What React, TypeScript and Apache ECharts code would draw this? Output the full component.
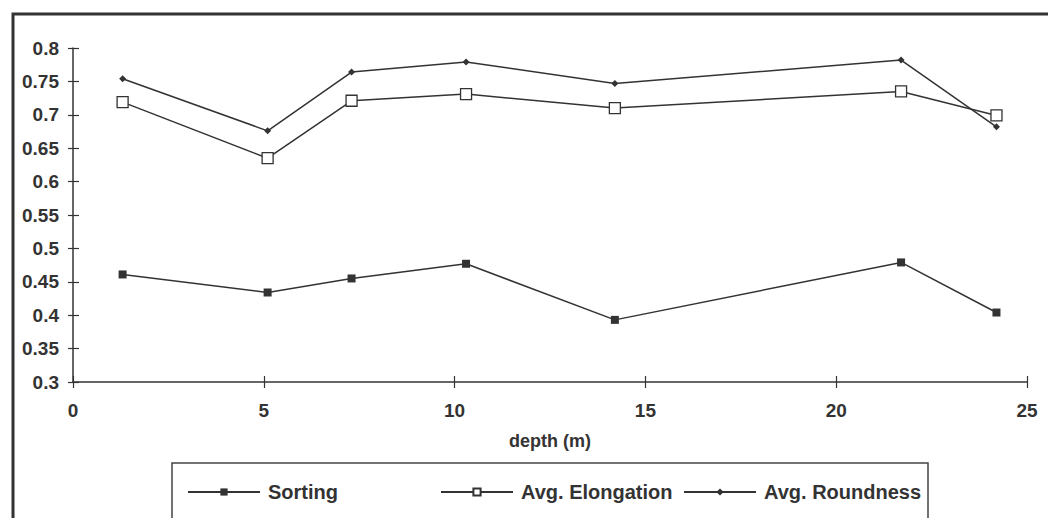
import React, { useEffect, useRef } from "react";
import * as echarts from "echarts";

const depth = [1.3, 5.1, 7.3, 10.3, 14.2, 21.7, 24.2];
const sorting = [0.461, 0.434, 0.455, 0.477, 0.393, 0.479, 0.404];
const elongation = [0.719, 0.635, 0.721, 0.731, 0.71, 0.735, 0.699];
const roundness = [0.754, 0.676, 0.764, 0.779, 0.747, 0.782, 0.682];
const seriesNames = ["Sorting", "Avg. Elongation", "Avg. Roundness"];
const xTitle = "depth (m)";

const INK = "#333333";
const FONT = "'Liberation Sans', Arial, sans-serif";

export default function App() {
  const ref = useRef<HTMLDivElement>(null);
  useEffect(() => {
    if (!ref.current) return;
    const chart = echarts.init(ref.current, undefined, { renderer: "svg" });
    const pairs = (ys: number[]) => depth.map((d, i) => [d, ys[i]]);
    const legendText = { fontFamily: FONT, fontWeight: "bold" as const, fontSize: 20, color: INK, padding: [0, 0, 0, 3] };
    const mkLegend = (name: string, left: number) => ({
      data: [name],
      left,
      top: 477,
      itemWidth: 72,
      itemHeight: 9,
      textStyle: legendText,
      selectedMode: false,
    });
    const baseX = {
      type: "value" as const,
      min: 0,
      max: 25,
      interval: 5,
      position: "bottom" as const,
      splitLine: { show: false },
    };
    const baseY = {
      type: "value" as const,
      min: 0.3,
      max: 0.8,
      interval: 0.05,
      splitLine: { show: false },
    };
    chart.setOption({
      animation: false,
      backgroundColor: "#ffffff",
      grid: { left: 73, top: 48, right: 21, bottom: 136, containLabel: false },
      xAxis: [
        {
          ...baseX,
          name: xTitle,
          nameLocation: "middle",
          nameGap: 50,
          nameTextStyle: { fontFamily: FONT, fontWeight: "bold", fontSize: 18, color: INK },
          axisLine: { show: true, lineStyle: { color: INK, width: 1.5 } },
          axisTick: { show: true, length: 6, lineStyle: { color: INK, width: 1.2 } },
          axisLabel: { margin: 19, fontFamily: FONT, fontWeight: "bold", fontSize: 19, color: INK },
        },
        {
          ...baseX,
          axisLine: { show: false },
          axisTick: { show: true, inside: true, length: 6, lineStyle: { color: INK, width: 1.2 } },
          axisLabel: { show: false },
        },
      ],
      yAxis: [
        {
          ...baseY,
          axisLine: { show: true, lineStyle: { color: INK, width: 1.5 } },
          axisTick: { show: true, length: 5, lineStyle: { color: INK, width: 1.2 } },
          axisLabel: { margin: 14, fontFamily: FONT, fontWeight: "bold", fontSize: 19, color: INK },
        },
        {
          ...baseY,
          position: "left",
          axisLine: { show: false },
          axisTick: { show: true, inside: true, length: 6, lineStyle: { color: INK, width: 1.2 } },
          axisLabel: { show: false },
        },
      ],
      legend: [
        mkLegend(seriesNames[0], 182),
        mkLegend(seriesNames[1], 435),
        mkLegend(seriesNames[2], 678),
      ],
      series: [
        {
          name: seriesNames[0],
          type: "line",
          data: pairs(sorting),
          symbol: "rect",
          symbolSize: 8,
          lineStyle: { color: INK, width: 1.5 },
          itemStyle: { color: INK, borderColor: INK, borderWidth: 0 },
        },
        {
          name: seriesNames[1],
          type: "line",
          data: pairs(elongation),
          symbol: "rect",
          symbolSize: 11,
          lineStyle: { color: INK, width: 1.5 },
          itemStyle: { color: "#ffffff", borderColor: INK, borderWidth: 1.3 },
        },
        {
          name: seriesNames[2],
          type: "line",
          data: pairs(roundness),
          symbol: "diamond",
          symbolSize: 7,
          lineStyle: { color: INK, width: 1.5 },
          itemStyle: { color: INK, borderColor: INK, borderWidth: 0 },
        },
      ],
      graphic: [
        {
          type: "rect",
          shape: { x: 13, y: 14, width: 1060, height: 540 },
          style: { fill: "none", stroke: INK, lineWidth: 3 },
          silent: true,
        },
        {
          type: "rect",
          shape: { x: 172, y: 463, width: 756, height: 60 },
          style: { fill: "none", stroke: "#444444", lineWidth: 1.5 },
          silent: true,
        },
      ],
    });
    return () => chart.dispose();
  }, []);
  return (
    <div
      ref={ref}
      style={{ position: "absolute", left: 0, top: 0, width: 1048, height: 518 }}
    />
  );
}
